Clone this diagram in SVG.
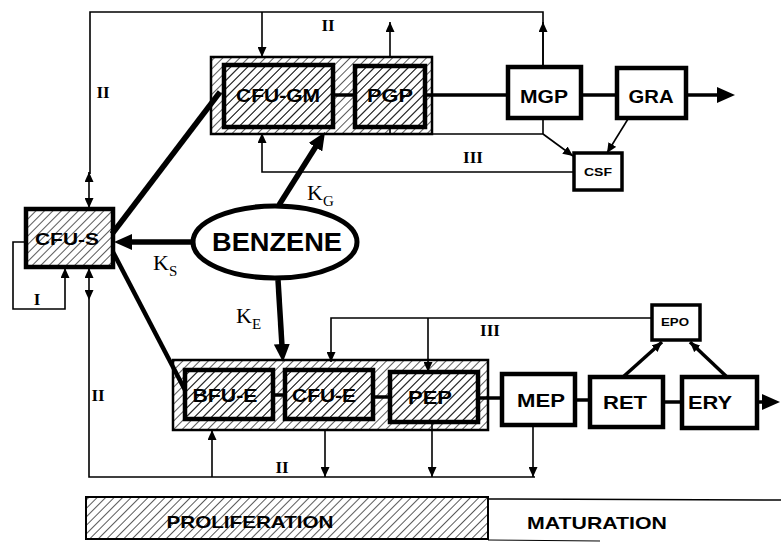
<svg xmlns="http://www.w3.org/2000/svg" width="781" height="544" viewBox="0 0 781 544">
<style>
.bg{fill:#fff}
.grp{fill:url(#h);stroke:#000;stroke-width:2.5}
.cell{fill:url(#h);stroke:#000;stroke-width:4.5}
.box{fill:#fff;stroke:#000;stroke-width:4.5}
.sbox{fill:#fff;stroke:#000;stroke-width:3.5}
.ln{fill:none;stroke:#000;stroke-width:1.6}
.lnk{fill:none;stroke:#000;stroke-width:3.5}
.thick{fill:none;stroke:#000;stroke-width:5.5}
.t{font-family:"Liberation Sans",Arial,sans-serif;font-weight:bold;text-anchor:middle;fill:#000}
.r{font-family:"Liberation Serif","Times New Roman",serif;font-weight:bold;text-anchor:middle;fill:#000;font-size:17px}
.k{font-family:"Liberation Serif","Times New Roman",serif;fill:#000;font-size:22px}
</style>
<defs>
<pattern id="h" width="6" height="6" patternUnits="userSpaceOnUse" patternTransform="rotate(45)">
<line x1="0" y1="0" x2="0" y2="6" stroke="#000" stroke-width="1.3"/>
</pattern>
<marker id="a" markerUnits="userSpaceOnUse" markerWidth="10" markerHeight="9" refX="10" refY="4.5" orient="auto">
<path d="M0,0 L10,4.5 L0,9 z" fill="#000"/>
</marker>
<marker id="b" markerUnits="userSpaceOnUse" markerWidth="18" markerHeight="16" refX="2" refY="8" orient="auto">
<path d="M0,0 L18,8 L0,16 z" fill="#000"/>
</marker>
</defs>
<rect class="bg" x="0" y="0" width="781" height="544"/>

<g id="connectors">
<path class="ln" d="M90,174 V12 H543 V67"/>
<path class="ln" d="M543,67 V22" marker-end="url(#a)"/>
<path class="ln" d="M262,12 V57" marker-end="url(#a)"/>
<path class="ln" d="M390,57 V22" marker-end="url(#a)"/>
<path class="ln" d="M89,186 V172" marker-end="url(#a)"/>
<path class="ln" d="M89,186 V208" marker-end="url(#a)"/>
<path class="ln" d="M89,282 V268" marker-end="url(#a)"/>
<path class="ln" d="M89,282 V300" marker-end="url(#a)"/>
<path class="ln" d="M89,300 V477 H535"/>
<path class="ln" d="M25,242 H13 V309 H65 V268" marker-end="url(#a)"/>
<path class="ln" d="M574,172 H262 V133" marker-end="url(#a)"/>
<path class="ln" d="M390,127 V134 H543 V118"/>
<path class="ln" d="M543,134 L573,156" marker-end="url(#a)"/>
<path class="ln" d="M628,119 L607,153" marker-end="url(#a)"/>
<path class="ln" d="M652,318 H331 V362" marker-end="url(#a)"/>
<path class="ln" d="M428,318 V372" marker-end="url(#a)"/>
<path class="lnk" d="M623,377 L662,342" marker-end="url(#a)"/>
<path class="lnk" d="M727,377 L690,342" marker-end="url(#a)"/>
<path class="ln" d="M212,477 V430" marker-end="url(#a)"/>
<path class="ln" d="M325,430 V477" marker-end="url(#a)"/>
<path class="ln" d="M432,423 V477" marker-end="url(#a)"/>
<path class="ln" d="M533,425 V477" marker-end="url(#a)"/>
<path class="lnk" d="M333,95 H355"/>
<path class="lnk" d="M425,95 H508"/>
<path class="lnk" d="M581,95 H617"/>
<path class="lnk" d="M686,95 H719" marker-end="url(#b)"/>
<path class="lnk" d="M273,395 H285"/>
<path class="lnk" d="M373,397 H390"/>
<path class="lnk" d="M478,398 H502"/>
<path class="lnk" d="M575,400 H590"/>
<path class="lnk" d="M663,402 H682"/>
<path class="lnk" d="M757,402 H764" marker-end="url(#b)"/>
<path class="thick" d="M192,242 H130" marker-end="url(#b)"/>
<path class="thick" d="M279,205 L316.5,145.5" marker-end="url(#b)"/>
<path class="thick" d="M278,280 L282,346" marker-end="url(#b)"/>
<path class="thick" d="M112,234 L220,92"/>
<path class="lnk" d="M113,252 L185,390" style="stroke-width:4.5"/>
</g>

<g id="gm-group"><rect class="grp" x="211" y="57" width="221" height="77"/></g>
<g id="cfu-gm"><rect class="cell" x="224" y="65" width="109" height="62"/><text class="t" x="278" y="102" font-size="18" textLength="84" lengthAdjust="spacingAndGlyphs">CFU-GM</text></g>
<g id="pgp"><rect class="cell" x="355" y="66" width="70" height="61"/><text class="t" x="390" y="102" font-size="18" textLength="46" lengthAdjust="spacingAndGlyphs">PGP</text></g>
<g id="mgp"><rect class="box" x="508" y="67" width="73" height="51"/><text class="t" x="544" y="103" font-size="18" textLength="48" lengthAdjust="spacingAndGlyphs">MGP</text></g>
<g id="gra"><rect class="box" x="617" y="68" width="69" height="50"/><text class="t" x="651" y="103" font-size="18" textLength="45" lengthAdjust="spacingAndGlyphs">GRA</text></g>
<g id="csf"><rect class="sbox" x="574" y="153" width="48" height="37"/><text class="t" x="598" y="176" font-size="11" textLength="28" lengthAdjust="spacingAndGlyphs">CSF</text></g>

<g id="cfu-s"><rect class="cell" x="26" y="209" width="87" height="58"/><text class="t" x="67" y="245" font-size="17" textLength="64" lengthAdjust="spacingAndGlyphs">CFU-S</text></g>

<g id="benzene"><ellipse cx="275" cy="242" rx="82" ry="36" fill="#fff" stroke="#000" stroke-width="5"/><text class="t" x="277" y="251" font-size="25" textLength="130" lengthAdjust="spacingAndGlyphs">BENZENE</text></g>

<g id="e-group"><rect class="grp" x="173" y="360" width="315" height="70"/></g>
<g id="bfu-e"><rect class="cell" x="185" y="370" width="88" height="49"/><text class="t" x="225" y="402" font-size="18" textLength="65" lengthAdjust="spacingAndGlyphs">BFU-E</text></g>
<g id="cfu-e"><rect class="cell" x="285" y="370" width="88" height="49"/><text class="t" x="324" y="402" font-size="18" textLength="64" lengthAdjust="spacingAndGlyphs">CFU-E</text></g>
<g id="pep"><rect class="cell" x="390" y="372" width="88" height="50"/><text class="t" x="430" y="404" font-size="18" textLength="44" lengthAdjust="spacingAndGlyphs">PEP</text></g>
<g id="mep"><rect class="box" x="502" y="374" width="73" height="51"/><text class="t" x="541" y="407" font-size="18" textLength="48" lengthAdjust="spacingAndGlyphs">MEP</text></g>
<g id="ret"><rect class="box" x="590" y="377" width="73" height="50"/><text class="t" x="625" y="409" font-size="18" textLength="44" lengthAdjust="spacingAndGlyphs">RET</text></g>
<g id="ery"><rect class="box" x="682" y="377" width="75" height="51"/><text class="t" x="710" y="409" font-size="18" textLength="44" lengthAdjust="spacingAndGlyphs">ERY</text></g>
<g id="epo"><rect class="sbox" x="652" y="305" width="48" height="35"/><text class="t" x="675" y="326" font-size="11" textLength="28" lengthAdjust="spacingAndGlyphs">EPO</text></g>

<g id="labels">
<text class="r" x="103" y="98">II</text>
<text class="r" x="328" y="31">II</text>
<text class="r" x="473" y="163">III</text>
<text class="r" x="37" y="305">I</text>
<text class="r" x="490" y="336">III</text>
<text class="r" x="98" y="401">II</text>
<text class="r" x="282" y="473">II</text>
<text class="k" x="153" y="270">K<tspan font-size="15" dy="6">S</tspan></text>
<text class="k" x="307" y="200">K<tspan font-size="15" dy="6">G</tspan></text>
<text class="k" x="236" y="323">K<tspan font-size="15" dy="6">E</tspan></text>
</g>

<g id="phase-bar">
<rect x="86" y="497" width="402" height="42" fill="url(#h)" stroke="#000" stroke-width="2"/>
<line x1="488" y1="499" x2="781" y2="500" stroke="#000" stroke-width="1.5"/>
<line x1="488" y1="540" x2="600" y2="541" stroke="#000" stroke-width="1"/>
<text class="t" x="250" y="528" font-size="17" textLength="167" lengthAdjust="spacingAndGlyphs">PROLIFERATION</text>
<text class="t" x="597" y="529" font-size="17" textLength="140" lengthAdjust="spacingAndGlyphs">MATURATION</text>
</g>
</svg>
